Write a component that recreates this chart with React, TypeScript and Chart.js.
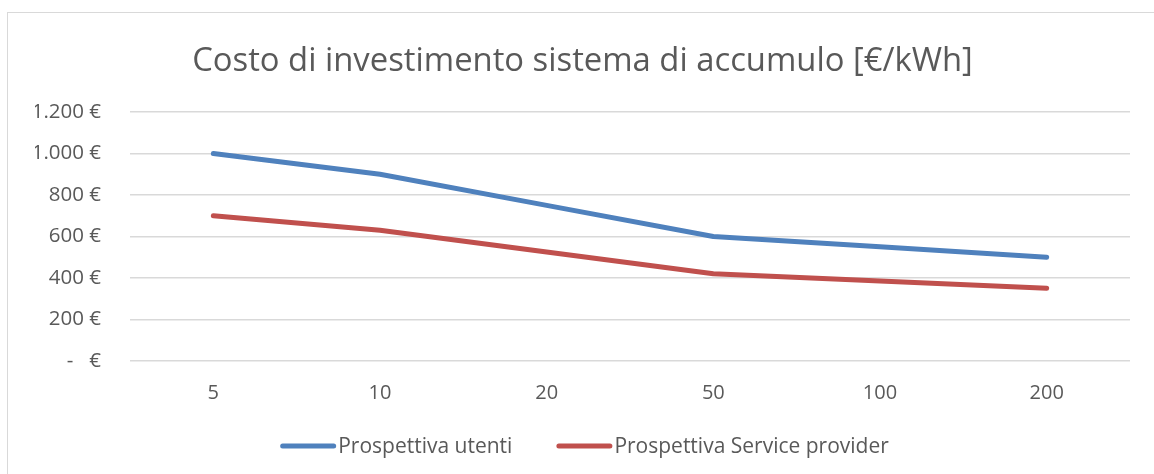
import React, { useEffect, useRef } from "react";
import { Chart, registerables } from "chart.js";

Chart.register(...registerables);

const chartTitle = "Costo di investimento sistema di accumulo [€/kWh]";
const categories = ["5", "10", "20", "50", "100", "200"];
const seriesNames = ["Prospettiva utenti", "Prospettiva Service provider"];
const utenti = [1000, 900, 750, 600, 550, 500];
const serviceProvider = [700, 630, 525, 420, 385, 350];
const yTickValues = [0, 200, 400, 600, 800, 1000, 1200];
const yTickLabels = ["-   €", "200 €", "400 €", "600 €", "800 €", "1.000 €", "1.200 €"];

const FONT = "'Open Sans', 'DejaVu Sans', sans-serif";
const TEXT = "#595959";
const GRID = "#D9D9D9";

// Legend drawn below the x axis, centred on the chart like Excel does
const bottomLegend = {
  id: "bottomLegend",
  afterDraw(chart: any) {
    const ctx = chart.ctx as CanvasRenderingContext2D;
    const cy = 433;
    const lineLen = 51;
    const cap = 2.5;
    const textGap = 2;
    const itemGap = 44;
    ctx.save();
    ctx.font = `21px ${FONT}`;
    ctx.textBaseline = "middle";
    ctx.textAlign = "left";
    const items = chart.data.datasets.map((ds: any) => ({
      label: ds.label as string,
      color: ds.borderColor as string,
      w: ctx.measureText(ds.label).width,
    }));
    let total = 0;
    items.forEach((it: any, i: number) => {
      total += cap + lineLen + cap + textGap + it.w;
      if (i < items.length - 1) total += itemGap;
    });
    const center = (chart.width + 27 - 28) / 2 + 2;
    let x = center - total / 2;
    items.forEach((it: any) => {
      ctx.beginPath();
      ctx.strokeStyle = it.color;
      ctx.lineWidth = 5;
      ctx.lineCap = "round";
      ctx.moveTo(x + cap, cy);
      ctx.lineTo(x + cap + lineLen, cy);
      ctx.stroke();
      x += cap + lineLen + cap + textGap;
      ctx.fillStyle = TEXT;
      ctx.fillText(it.label, x, cy + 1);
      x += it.w + itemGap;
    });
    ctx.restore();
  },
};

export default function App() {
  const ref = useRef<HTMLCanvasElement | null>(null);

  useEffect(() => {
    if (!ref.current) return;
    const chart = new Chart(ref.current, {
      type: "line",
      data: {
        labels: categories,
        datasets: [
          {
            label: seriesNames[0],
            data: utenti,
            borderColor: "#4F81BD",
            backgroundColor: "#4F81BD",
            borderWidth: 5,
            borderCapStyle: "round",
            borderJoinStyle: "round",
            pointRadius: 0,
            tension: 0,
          },
          {
            label: seriesNames[1],
            data: serviceProvider,
            borderColor: "#C0504D",
            backgroundColor: "#C0504D",
            borderWidth: 5,
            borderCapStyle: "round",
            borderJoinStyle: "round",
            pointRadius: 0,
            tension: 0,
          },
        ],
      },
      options: {
        responsive: false,
        animation: false,
        layout: { padding: { left: 27, right: 28, top: 0, bottom: 53 } },
        plugins: {
          title: {
            display: true,
            text: chartTitle,
            color: TEXT,
            font: { family: FONT, size: 32.8, weight: "normal", lineHeight: 1.2 },
            padding: { top: 28.5, bottom: 31.1 },
          },
          legend: { display: false },
          tooltip: { enabled: false },
        },
        scales: {
          x: {
            offset: true,
            grid: { display: false, drawTicks: false },
            border: { display: false },
            ticks: {
              color: TEXT,
              font: { family: FONT, size: 20 },
              padding: 20.5,
              maxRotation: 0,
            },
            afterFit: (scale: any) => {
              scale.height = 60;
            },
          },
          y: {
            min: 0,
            max: 1200,
            grid: { color: GRID, lineWidth: 1.5, drawTicks: false },
            border: { display: false },
            afterBuildTicks: (scale: any) => {
              scale.ticks = yTickValues.map((v) => ({ value: v }));
            },
            ticks: {
              color: TEXT,
              font: { family: FONT, size: 20.5 },
              padding: 29,
              callback: (value: any) => {
                const i = yTickValues.indexOf(Number(value));
                return i >= 0 ? yTickLabels[i] : "";
              },
            },
            afterFit: (scale: any) => {
              scale.width = 95;
            },
          },
        },
      },
      plugins: [bottomLegend],
    });
    if ((document as any).fonts && (document as any).fonts.ready) {
      (document as any).fonts.ready.then(() => chart.update());
    }
    return () => chart.destroy();
  }, []);

  return (
    <div
      style={{
        position: "absolute",
        left: 0,
        top: 0,
        width: 1154,
        height: 474,
        overflow: "hidden",
        background: "#ffffff",
      }}
    >
      <div
        style={{
          position: "absolute",
          left: 7,
          top: 12,
          width: 1170,
          height: 520,
          border: "1px solid #D9D9D9",
          boxSizing: "border-box",
          background: "#ffffff",
        }}
      >
        <canvas
          ref={ref}
          width={1150}
          height={461}
          style={{ position: "absolute", left: 0, top: 0, width: 1150, height: 461 }}
        />
      </div>
    </div>
  );
}
